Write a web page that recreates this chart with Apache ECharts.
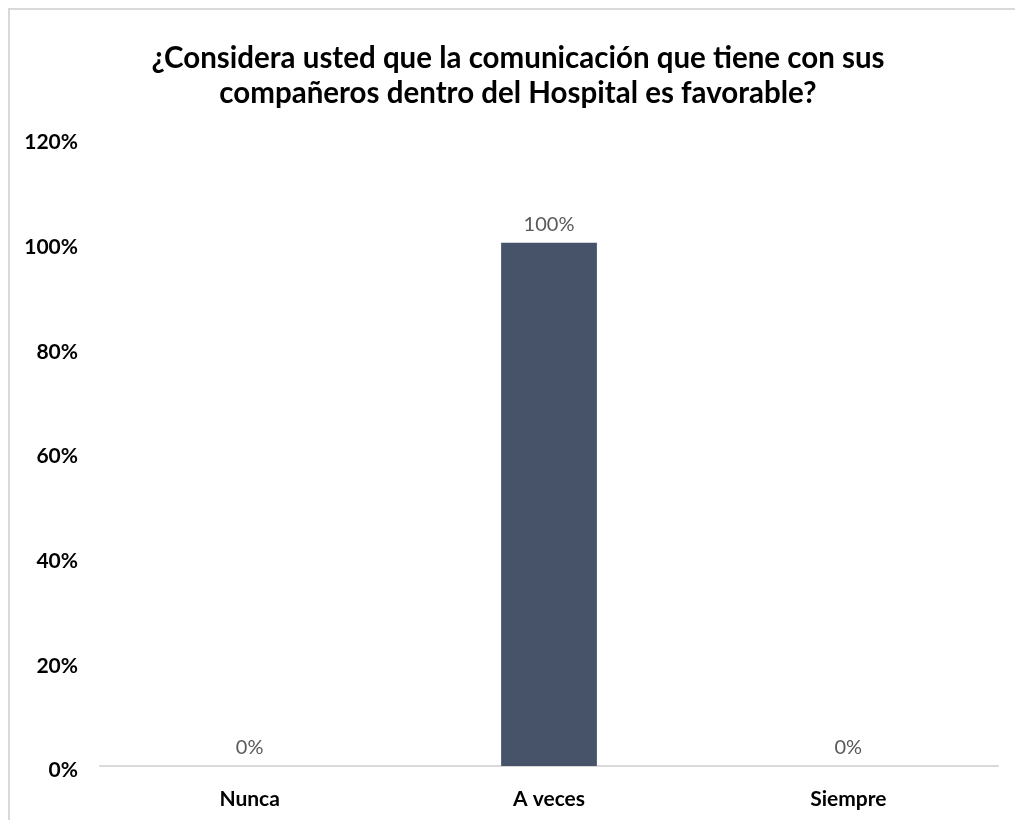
<!DOCTYPE html>
<html>
<head>
<meta charset="utf-8">
<script src="https://cdn.jsdelivr.net/npm/echarts@6/dist/echarts.min.js"></script>
<style>
  html, body { margin: 0; padding: 0; background: #ffffff; }
  #frame { position: absolute; left: 8px; top: 8px; width: 1020px; height: 830px; border: 2px solid #d9d9d9; box-sizing: border-box; }
  #chart { position: absolute; left: 0; top: 0; width: 1015px; height: 820px; }
</style>
</head>
<body>
<div id="frame"></div>
<div id="chart"></div>
<script>
// Survey answers and their share of respondents
const categories = ['Nunca', 'A veces', 'Siempre'];
const shares = [0, 100, 0];
const yTicks = [0, 20, 40, 60, 80, 100, 120];
const titleText = '¿Considera usted que la comunicación que tiene con sus\ncompañeros dentro del Hospital es favorable?';

const font = 'Lato, "Open Sans", sans-serif';
const chart = echarts.init(document.getElementById('chart'));
chart.setOption({
  backgroundColor: 'transparent',
  animation: false,
  title: {
    text: titleText,
    left: 513,
    textAlign: 'center',
    top: 36,
    textStyle: { fontFamily: font, fontWeight: 'bold', fontSize: 29.5, color: '#000000', lineHeight: 35 }
  },
  grid: { left: 100, right: 17, top: 138, bottom: 54 },
  xAxis: {
    type: 'category',
    data: categories,
    axisTick: { show: false },
    axisLine: { lineStyle: { color: '#d9d9d9', width: 2 } },
    axisLabel: { fontFamily: font, fontWeight: 'bold', fontSize: 21, color: '#000000', margin: 23 }
  },
  yAxis: {
    type: 'value',
    min: yTicks[0],
    max: yTicks[yTicks.length - 1],
    interval: yTicks[1] - yTicks[0],
    splitLine: { show: false },
    axisLine: { show: false },
    axisTick: { show: false },
    axisLabel: {
      margin: 22,
      formatter: '{t|{value}%}',
      rich: {
        t: { fontFamily: font, fontWeight: 'bold', fontSize: 21, color: '#000000', padding: [9, 0, 0, 0] }
      }
    }
  },
  series: [{
    type: 'bar',
    data: shares,
    barWidth: '32%',
    itemStyle: { color: '#465369' },
    label: {
      show: true,
      position: 'top',
      distance: 8,
      formatter: p => p.value + '%',
      fontFamily: font,
      fontSize: 20,
      color: '#595959'
    }
  }]
});
</script>
</body>
</html>
